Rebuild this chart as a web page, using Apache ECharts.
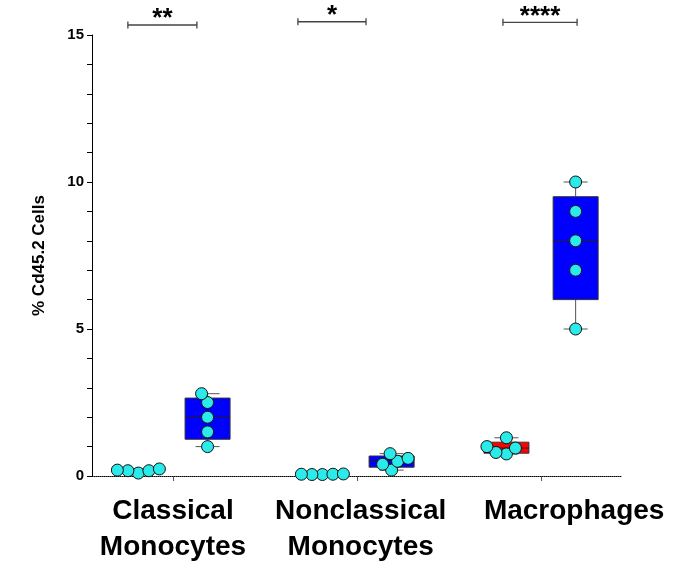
<!DOCTYPE html>
<html lang="en">
<head>
    <meta charset="UTF-8">
    <title>% Cd45.2 Cells</title>
    <style>
        html, body { margin: 0; padding: 0; background: #fff; }
        #chart { width: 679px; height: 563px; }
    </style>
</head>
<body>
<div id="chart"></div>
<script src="https://cdn.jsdelivr.net/npm/echarts@6.0.0/dist/echarts.min.js"></script>
<script type="text/javascript">
    'use strict';
    // groups along x (1, 2, 3)
    var categories = [['Classical', 'Monocytes'], ['Nonclassical', 'Monocytes'], ['Macrophages']];
    var labelAt = [1.0, 2.02, 3.18];

    // five animals per group
    var controlValues = [
        [0.18, 0.24, 0.18, 0.2, 0.1],
        [0.06, 0.05, 0.07, 0.05, 0.06],
        [1.3, 1.0, 0.8, 0.95, 0.75]
    ];
    var treatedValues = [
        [2.8, 2.5, 2.0, 1.5, 1.0],
        [0.6, 0.76, 0.4, 0.5, 0.2],
        [10, 9, 8, 7, 5]
    ];

    // significance brackets
    var sigLabels = ['**', '*', '****'];
    var sigFrom = [0.755, 1.679, 2.793];
    var sigTo = [1.13, 2.049, 3.196];
    var sigLevel = [15.34, 15.45, 15.43];

    var yTicks = [0, 5, 10, 15];

    var FONT = '"Liberation Sans", Arial, sans-serif';
    var X_MIN = 0.56, X_MAX = 3.44, Y_MAX = 15;
    var GRID = {left: 92, right: 57, top: 35, bottom: 87, outerBoundsMode: 'none', containLabel: false};
    var pxPerX = (679 - GRID.left - GRID.right) / (X_MAX - X_MIN);
    var pxPerY = (563 - GRID.top - GRID.bottom) / Y_MAX;
    var SUB_OFFSET = 0.188;

    // Prism style quartiles (n+1 method)
    function quantile(sorted, q) {
        var pos = q * (sorted.length + 1) - 1;
        var lo = Math.floor(pos), hi = Math.ceil(pos);
        if (lo < 0) return sorted[0];
        if (hi >= sorted.length) return sorted[sorted.length - 1];
        return sorted[lo] + (sorted[hi] - sorted[lo]) * (pos - lo);
    }
    function boxStats(vals) {
        var s = vals.slice().sort(function (a, b) { return a - b; });
        return [s[0], quantile(s, 0.25), quantile(s, 0.5), quantile(s, 0.75), s[s.length - 1]];
    }

    // simple beeswarm, spacing in pixels
    function swarm(vals, center) {
        var D = 10.5;
        var order = vals.map(function (v, i) { return i; })
            .sort(function (a, b) { return vals[a] - vals[b]; });
        var placed = [];
        var out = [];
        order.forEach(function (i) {
            var y = vals[i] * pxPerY;
            var off = 0;
            for (var k = 0; k < 200; k++) {
                var cand = (k % 2 === 1 ? -1 : 1) * Math.ceil(k / 2) * 0.5;
                var ok = placed.every(function (p) {
                    var dx = p[0] - cand, dy = p[1] - y;
                    return dx * dx + dy * dy >= D * D;
                });
                if (ok) { off = cand; break; }
            }
            placed.push([off, y]);
            out.push([center + off / pxPerX, vals[i]]);
        });
        return out;
    }

    var boxData = [];
    var pointData = [];
    for (var g = 0; g < categories.length; g++) {
        var cC = g + 1 - SUB_OFFSET, cT = g + 1 + SUB_OFFSET;
        boxData.push([cC].concat(boxStats(controlValues[g]), [0]));
        boxData.push([cT].concat(boxStats(treatedValues[g]), [1]));
        pointData = pointData.concat(swarm(controlValues[g], cC), swarm(treatedValues[g], cT));
    }
    var sigData = sigLabels.map(function (s, i) { return [sigFrom[i], sigTo[i], sigLevel[i], i]; });

    var boxColors = ['#ff0000', '#0000ff'];

    function renderBox(params, api) {
        var cx = api.value(0);
        var x = api.coord([cx, 0])[0];
        var yMin = api.coord([cx, api.value(1)])[1];
        var yQ1 = api.coord([cx, api.value(2)])[1];
        var yMed = api.coord([cx, api.value(3)])[1];
        var yQ3 = api.coord([cx, api.value(4)])[1];
        var yMax = api.coord([cx, api.value(5)])[1];
        var hw = 22.5, cw = 12;
        var wStyle = {stroke: '#555', lineWidth: 1};
        return {
            type: 'group',
            children: [
                {type: 'line', shape: {x1: x, y1: yQ1, x2: x, y2: yMin}, style: wStyle},
                {type: 'line', shape: {x1: x, y1: yQ3, x2: x, y2: yMax}, style: wStyle},
                {type: 'line', shape: {x1: x - cw, y1: yMin, x2: x + cw, y2: yMin}, style: wStyle},
                {type: 'line', shape: {x1: x - cw, y1: yMax, x2: x + cw, y2: yMax}, style: wStyle},
                {type: 'rect', shape: {x: x - hw, y: yQ3, width: hw * 2, height: yQ1 - yQ3},
                    style: {fill: boxColors[api.value(6)], stroke: '#333', lineWidth: 1}},
                {type: 'line', shape: {x1: x - hw, y1: yMed, x2: x + hw, y2: yMed}, style: {stroke: '#222', lineWidth: 1}}
            ]
        };
    }

    function renderSig(params, api) {
        var p1 = api.coord([api.value(0), api.value(2)]);
        var p2 = api.coord([api.value(1), api.value(2)]);
        var st = {stroke: '#444', lineWidth: 1.3};
        return {
            type: 'group',
            children: [
                {type: 'line', shape: {x1: p1[0], y1: p1[1], x2: p2[0], y2: p2[1]}, style: st},
                {type: 'line', shape: {x1: p1[0], y1: p1[1] - 3.5, x2: p1[0], y2: p1[1] + 3.5}, style: st},
                {type: 'line', shape: {x1: p2[0], y1: p2[1] - 3.5, x2: p2[0], y2: p2[1] + 3.5}, style: st},
                {type: 'text', x: (p1[0] + p2[0]) / 2, y: p1[1] - 6,
                    style: {text: sigLabels[api.value(3)], fill: '#000', font: 'bold 26px ' + FONT,
                        align: 'center', verticalAlign: 'middle'}}
            ]
        };
    }

    var chart = echarts.init(document.getElementById('chart'), null, {renderer: 'canvas'});
    chart.setOption({
        animation: false,
        backgroundColor: '#fff',
        grid: GRID,
        xAxis: {
            type: 'value',
            min: X_MIN,
            max: X_MAX,
            splitLine: {show: false},
            axisLine: {onZero: false, lineStyle: {color: '#000', width: 1, type: 'dotted'}},
            axisTick: {customValues: [1, 2, 3], length: 5, lineStyle: {color: '#555'}},
            axisLabel: {
                customValues: labelAt,
                margin: 17,
                hideOverlap: false,
                fontFamily: FONT,
                fontWeight: 'bold',
                fontSize: 28,
                lineHeight: 36,
                color: '#000',
                formatter: function (v) {
                    var idx = labelAt.indexOf(v);
                    if (idx < 0) idx = Math.min(2, Math.max(0, Math.round(v) - 1));
                    return categories[idx].join('\n');
                }
            }
        },
        yAxis: {
            type: 'value',
            min: yTicks[0],
            max: yTicks[yTicks.length - 1],
            interval: 5,
            name: '% Cd45.2 Cells',
            nameLocation: 'middle',
            nameGap: 44,
            nameTextStyle: {fontFamily: FONT, fontWeight: 'bold', fontSize: 17, color: '#000'},
            splitLine: {show: false},
            axisLine: {show: true, lineStyle: {color: '#000', width: 1}},
            axisTick: {show: true, length: 5, lineStyle: {color: '#000'}},
            minorTick: {show: true, splitNumber: 5, length: 5, lineStyle: {color: '#000'}},
            axisLabel: {margin: 8, fontFamily: FONT, fontWeight: 'bold', fontSize: 15, color: '#000'}
        },
        series: [
            {
                type: 'custom',
                name: 'box',
                renderItem: renderBox,
                data: boxData,
                encode: {x: 0, y: [1, 5]},
                z: 2
            },
            {
                type: 'scatter',
                name: 'points',
                data: pointData,
                symbol: 'circle',
                symbolSize: 12,
                itemStyle: {color: '#2aeaea', borderColor: '#111', borderWidth: 1, opacity: 1},
                z: 3
            },
            {
                type: 'custom',
                name: 'sig',
                renderItem: renderSig,
                data: sigData,
                clip: false,
                encode: {x: [0, 1], y: 2},
                z: 4
            }
        ]
    });
</script>
</body>
</html>
